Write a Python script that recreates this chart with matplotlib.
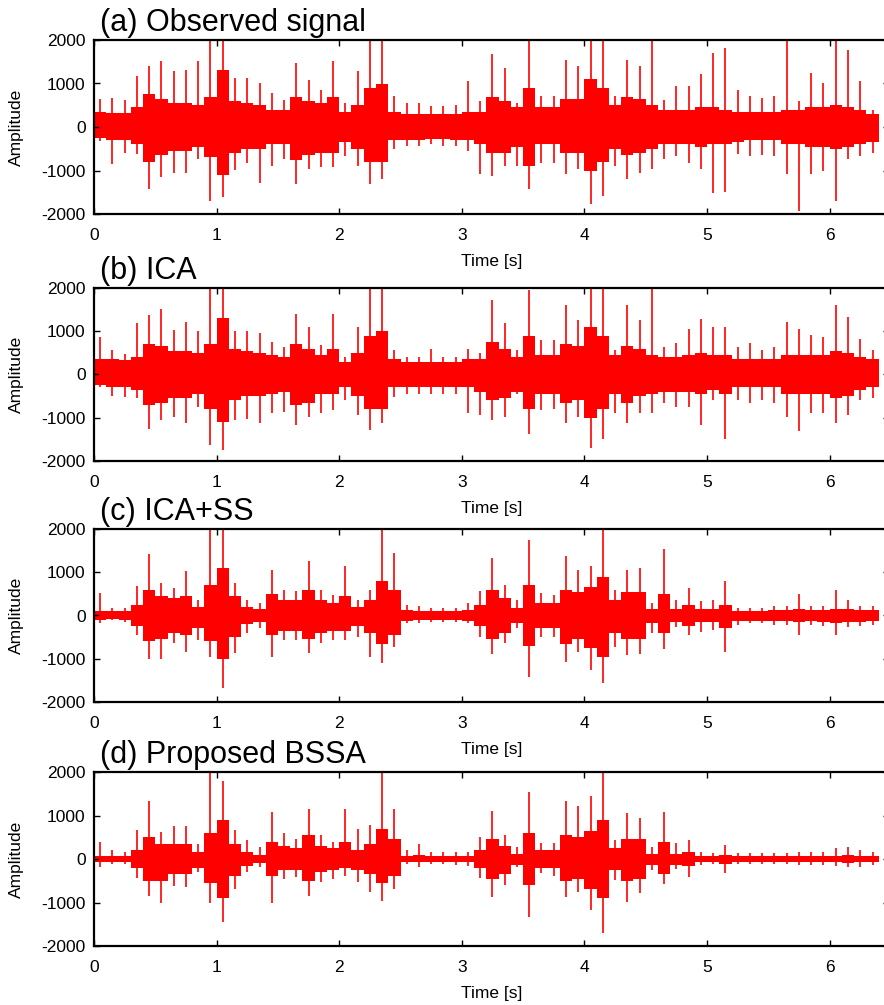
import numpy as np
import matplotlib
matplotlib.use("Agg")
import matplotlib.pyplot as plt

plt.rcParams['font.family'] = ['Liberation Sans', 'DejaVu Sans']
plt.rcParams['axes.unicode_minus'] = False

# envelope of each waveform, read in 0.1 s bins (0.0-0.1, 0.1-0.2, ... 6.3-6.4)
bin_width = 0.1
n_bins = 64

titles = ["(a) Observed signal", "(b) ICA", "(c) ICA+SS", "(d) Proposed BSSA"]

# (a) observed
a_peak_hi = [650, 670, 620, 1170, 1400, 1510, 1290, 1320, 1510, 2100,
             2100, 1130, 1130, 1020, 790, 630, 1480, 1090, 860, 1510,
             560, 1290, 2100, 2100, 710, 560, 560, 480, 480, 500,
             1060, 600, 1670, 1360, 560, 2000, 710, 710, 1550, 1400,
             2100, 2100, 710, 1550, 1400, 2100, 630, 940, 940, 1210,
             1700, 1820, 860, 710, 670, 710, 2100, 600, 1250, 1020,
             2100, 1780, 1060, 400]
a_peak_lo = [-330, -860, -590, -630, -1430, -1160, -1050, -1060, -740, -1700,
             -1600, -980, -820, -1280, -900, -740, -1320, -970, -930, -930,
             -670, -900, -1320, -1200, -510, -440, -440, -400, -440, -440,
             -560, -1090, -1120, -900, -900, -1430, -820, -820, -1090, -970,
             -1780, -1580, -900, -1200, -1050, -970, -740, -670, -820, -970,
             -1510, -1490, -630, -670, -650, -670, -1090, -1930, -1090, -1000,
             -1700, -740, -670, -590]
a_core_hi = [350, 330, 330, 450, 750, 650, 550, 550, 500, 700,
             1300, 600, 550, 500, 400, 400, 700, 600, 550, 700,
             350, 500, 900, 1000, 350, 300, 300, 300, 300, 300,
             350, 350, 700, 600, 450, 900, 450, 450, 650, 650,
             1100, 900, 500, 700, 650, 500, 400, 400, 400, 450,
             450, 400, 350, 350, 350, 350, 400, 400, 450, 450,
             500, 450, 400, 300]
a_core_lo = [-250, -300, -300, -400, -800, -650, -550, -550, -450, -700,
             -1100, -600, -500, -500, -400, -400, -750, -650, -600, -600,
             -350, -500, -800, -800, -300, -300, -300, -280, -280, -300,
             -300, -400, -600, -600, -450, -900, -400, -400, -600, -600,
             -1000, -800, -500, -650, -600, -500, -400, -400, -400, -450,
             -400, -400, -350, -300, -300, -300, -400, -400, -450, -450,
             -500, -450, -400, -350]

# (b) ICA
b_peak_hi = [870, 560, 480, 1180, 1370, 1520, 1020, 1220, 1000, 2100,
             2100, 1000, 1000, 950, 750, 640, 1400, 1100, 680, 1390,
             410, 1100, 2100, 2100, 560, 410, 410, 600, 410, 410,
             600, 500, 1720, 1180, 560, 1960, 790, 790, 1600, 1250,
             2100, 2100, 560, 1600, 1250, 2100, 640, 720, 1060, 1290,
             1100, 1100, 640, 720, 560, 640, 1220, 1060, 910, 870,
             1600, 1330, 830, 560]
b_peak_lo = [-280, -500, -510, -550, -1250, -1050, -980, -1130, -750, -1630,
             -1750, -1050, -1020, -1130, -900, -860, -1170, -980, -900, -830,
             -600, -940, -1290, -1130, -520, -440, -440, -440, -440, -440,
             -900, -940, -1050, -980, -440, -1380, -820, -800, -1130, -980,
             -1710, -1500, -900, -1130, -900, -900, -670, -750, -750, -1170,
             -600, -1490, -600, -670, -600, -670, -980, -1300, -900, -900,
             -1130, -940, -600, -550]
b_core_hi = [350, 350, 330, 400, 700, 650, 550, 550, 500, 700,
             1300, 600, 550, 500, 450, 400, 700, 600, 450, 600,
             300, 500, 900, 1000, 350, 300, 300, 300, 300, 300,
             350, 350, 750, 600, 400, 900, 450, 450, 700, 650,
             1100, 900, 450, 650, 600, 450, 400, 400, 450, 500,
             450, 450, 350, 350, 350, 350, 450, 450, 450, 450,
             550, 500, 400, 350]
b_core_lo = [-250, -300, -300, -350, -700, -650, -550, -550, -450, -800,
             -1100, -600, -500, -500, -450, -400, -700, -650, -450, -450,
             -300, -500, -800, -800, -300, -300, -300, -300, -300, -300,
             -300, -400, -600, -550, -400, -800, -450, -450, -650, -600,
             -1000, -800, -450, -650, -500, -450, -400, -400, -400, -450,
             -350, -450, -300, -300, -300, -300, -450, -450, -450, -450,
             -550, -500, -350, -300]

# (c) ICA+SS
c_peak_hi = [520, 170, 170, 690, 1430, 750, 640, 1030, 360, 2100,
             2100, 750, 360, 290, 1060, 600, 560, 1270, 600, 480,
             1140, 360, 600, 2050, 1450, 250, 210, 170, 170, 170,
             290, 560, 1330, 710, 360, 1750, 520, 480, 1370, 1060,
             1140, 2050, 600, 1060, 1100, 290, 1540, 360, 640, 330,
             360, 790, 170, 170, 170, 210, 210, 500, 210, 210,
             600, 360, 210, 210]
c_peak_lo = [-180, -100, -140, -450, -1000, -1010, -640, -840, -570, -950,
             -1670, -870, -410, -300, -950, -570, -570, -870, -640, -570,
             -570, -490, -950, -1090, -720, -180, -180, -140, -140, -140,
             -180, -490, -880, -640, -300, -1420, -490, -490, -1070, -840,
             -1260, -1570, -720, -910, -880, -410, -780, -260, -450, -370,
             -340, -840, -220, -180, -180, -220, -220, -450, -220, -250,
             -450, -260, -250, -220]
c_core_hi = [100, 100, 100, 250, 600, 450, 400, 450, 200, 700,
             1100, 450, 200, 150, 500, 350, 350, 600, 350, 300,
             450, 200, 350, 800, 600, 120, 110, 100, 100, 100,
             120, 250, 600, 400, 180, 700, 300, 300, 600, 550,
             650, 900, 350, 550, 550, 150, 500, 150, 250, 150,
             150, 250, 100, 100, 100, 120, 120, 150, 120, 120,
             150, 150, 120, 120]
c_core_lo = [-100, -80, -100, -250, -600, -550, -400, -450, -300, -600,
             -1000, -500, -200, -150, -450, -350, -350, -550, -400, -350,
             -350, -250, -400, -650, -450, -120, -110, -100, -100, -100,
             -120, -250, -550, -400, -180, -700, -300, -300, -650, -550,
             -750, -950, -400, -550, -550, -180, -400, -150, -250, -150,
             -150, -300, -120, -120, -120, -120, -130, -150, -130, -140,
             -180, -150, -140, -130]

# (d) proposed BSSA
d_peak_hi = [390, 200, 170, 660, 1340, 620, 760, 760, 350, 2050,
             1800, 660, 430, 270, 1080, 590, 460, 1150, 550, 400,
             1140, 700, 790, 2050, 1140, 200, 340, 170, 170, 170,
             170, 500, 1110, 550, 280, 1530, 360, 360, 1340, 1210,
             1440, 2050, 440, 1050, 940, 280, 1090, 360, 440, 170,
             130, 320, 130, 130, 130, 130, 130, 150, 150, 170,
             250, 280, 200, 170]
d_peak_lo = [-190, -120, -120, -430, -850, -1000, -620, -640, -310, -1000,
             -1440, -680, -310, -180, -1000, -460, -410, -840, -540, -460,
             -390, -540, -770, -960, -690, -110, -180, -110, -110, -130,
             -150, -440, -870, -600, -180, -1330, -330, -400, -870, -750,
             -1180, -1690, -480, -980, -790, -260, -580, -220, -410, -140,
             -120, -330, -120, -110, -110, -120, -120, -130, -130, -130,
             -160, -180, -180, -140]
d_core_hi = [80, 80, 80, 200, 500, 350, 350, 350, 150, 600,
             900, 350, 150, 100, 400, 300, 250, 550, 300, 250,
             400, 200, 350, 700, 450, 80, 90, 80, 80, 80,
             80, 200, 450, 300, 120, 600, 200, 200, 550, 500,
             650, 900, 250, 450, 450, 120, 400, 120, 150, 80,
             70, 100, 60, 60, 60, 60, 60, 70, 70, 70,
             80, 90, 80, 70]
d_core_lo = [-80, -70, -70, -200, -500, -500, -350, -350, -200, -550,
             -900, -400, -150, -100, -400, -250, -250, -500, -300, -250,
             -200, -250, -350, -550, -400, -80, -80, -70, -70, -70,
             -80, -200, -450, -350, -130, -600, -200, -200, -500, -450,
             -700, -900, -250, -500, -450, -130, -350, -130, -150, -80,
             -70, -110, -60, -60, -60, -60, -60, -70, -70, -70,
             -80, -90, -80, -70]

panels = [
    (a_peak_hi, a_peak_lo, a_core_hi, a_core_lo),
    (b_peak_hi, b_peak_lo, b_core_hi, b_core_lo),
    (c_peak_hi, c_peak_lo, c_core_hi, c_core_lo),
    (d_peak_hi, d_peak_lo, d_core_hi, d_core_lo),
]

t_left = np.arange(n_bins) * bin_width
t_mid = t_left + bin_width / 2

W, H = 884, 1005
fig = plt.figure(figsize=(W / 100, H / 100), dpi=100)

# axes boxes in pixels: top, bottom (right edge runs just past the figure)
boxes = [(40, 214), (288, 461), (529, 702), (772, 946)]
left_px, right_px = 94, 889

for (top, bot), title, (pk_hi, pk_lo, co_hi, co_lo) in zip(boxes, titles, panels):
    ax = fig.add_axes([left_px / W, 1 - bot / H, (right_px - left_px) / W, (bot - top) / H])
    ax.bar(t_left, np.subtract(co_hi, co_lo), bottom=co_lo, width=bin_width,
           align='edge', color='red', linewidth=0)
    ax.vlines(t_mid, pk_lo, pk_hi, color='red', lw=1.2)
    ax.set_xlim(0, (right_px - left_px) / 122.6)
    ax.set_ylim(-2000, 2000)
    ax.set_xticks(range(0, 7))
    ax.set_yticks([-2000, -1000, 0, 1000, 2000])
    ax.tick_params(direction='in', top=True, right=True, length=4.5, width=1.0,
                   labelsize=12.5)
    ax.tick_params(axis='x', pad=10)
    ax.tick_params(axis='y', pad=6)
    for s in ax.spines.values():
        s.set_linewidth(1.6)
    ax.set_xlabel("Time [s]", fontsize=12.5)
    ax.xaxis.set_label_coords(0.5, -(254 - 214) / 174)
    ax.set_ylabel("Amplitude", fontsize=12.5)
    ax.yaxis.set_label_coords(-0.088, 0.5)
    ax.text(0.008, 1.01, title, transform=ax.transAxes, fontsize=22,
            ha='left', va='bottom')

fig.savefig("out.png", dpi=100)
